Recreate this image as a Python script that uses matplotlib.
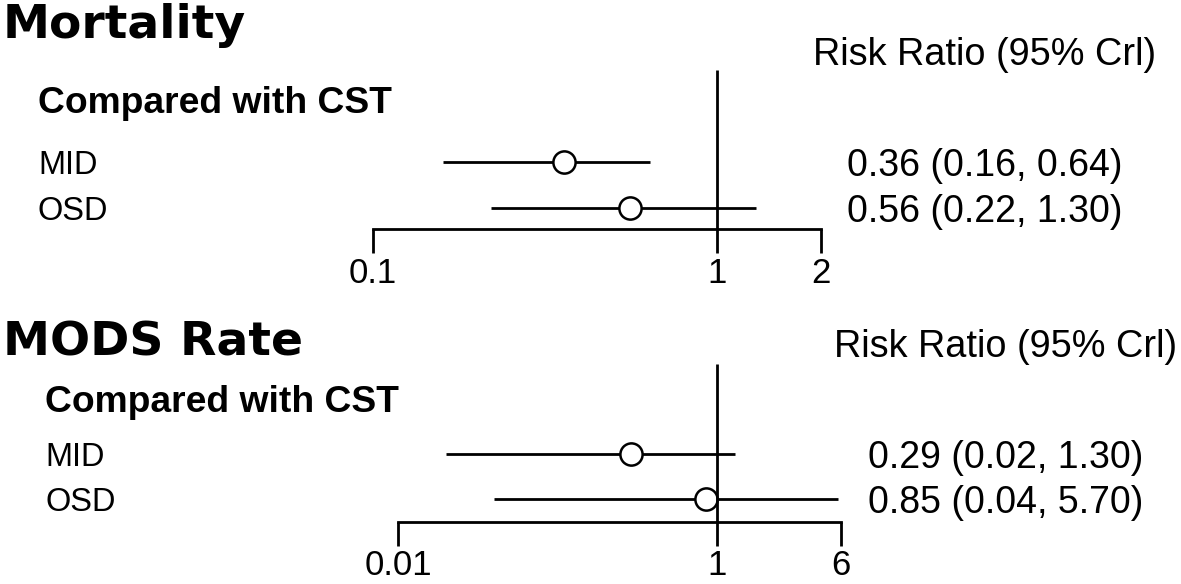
import numpy as np
import matplotlib
matplotlib.use("Agg")
import matplotlib.pyplot as plt
import matplotlib.transforms as mtransforms

plt.rcParams['font.family'] = ['Liberation Sans', 'DejaVu Sans']

# data
titles = ['Mortality', 'MODS Rate']
header = 'Compared with CST'
rr_label = 'Risk Ratio (95% Crl)'
rows = ['MID', 'OSD']
rr = [[0.36, 0.56], [0.29, 0.85]]
ci_low = [[0.16, 0.22], [0.02, 0.04]]
ci_high = [[0.64, 1.30], [1.30, 5.70]]
ticks = [[0.1, 1, 2], [0.01, 1, 6]]
tick_labels = [['0.1', '1', '2'], ['0.01', '1', '6']]

W, H = 1181, 584
fig = plt.figure(figsize=(W / 100, H / 100), dpi=100)

# layout per panel (pixels): top, bottom, first row y, row step, x of 1, px per decade
panels = [
    dict(top=0, bottom=292, row0=162, step=46, x1=717, dec=344, axis_row=1.46,
         title_y=38, rr_y=65, rr_x=985, head_y=113, lab_x=38, val_x=985),
    dict(top=292, bottom=584, row0=454, step=45, x1=717, dec=159.5, axis_row=1.5,
         title_y=356, rr_y=357, rr_x=1006, head_y=412, lab_x=45, val_x=1006),
]

for i, p in enumerate(panels):
    ax = fig.add_axes([0, 1 - p['bottom'] / H, 1, (p['bottom'] - p['top']) / H])
    ax.set_xscale('log')
    ax.set_xlim(10 ** (-p['x1'] / p['dec']), 10 ** ((W - p['x1']) / p['dec']))
    ax.set_ylim((p['bottom'] - p['row0']) / p['step'], (p['top'] - p['row0']) / p['step'])
    ax.patch.set_visible(False)

    y = np.arange(len(rows))
    ax.hlines(y, ci_low[i], ci_high[i], color='black', lw=2, zorder=2)
    ax.plot(rr[i], y, 'o', ms=16, mfc='white', mec='black', mew=1.8, zorder=3)
    ax.vlines(1, -2, p['axis_row'], color='black', lw=2, zorder=4)

    for s in ['left', 'right', 'top']:
        ax.spines[s].set_visible(False)
    ax.spines['bottom'].set_position(('data', p['axis_row']))
    ax.spines['bottom'].set_bounds(ticks[i][0], ticks[i][-1])
    ax.spines['bottom'].set_linewidth(2)
    ax.set_yticks([])
    ax.set_xticks(ticks[i])
    ax.set_xticklabels(tick_labels[i])
    ax.xaxis.set_minor_locator(matplotlib.ticker.NullLocator())
    ax.tick_params(axis='x', direction='out', length=17, width=2, pad=3, labelsize=25)

    # texts: x in figure fraction, y in row units
    tr = mtransforms.blended_transform_factory(fig.transFigure, ax.transData)
    for j, name in enumerate(rows):
        ax.text(p['lab_x'] / W, j, name, transform=tr, fontsize=23.5,
                va='center_baseline', ha='left')
        ax.text(p['val_x'] / W, j,
                f"{rr[i][j]:.2f} ({ci_low[i][j]:.2f}, {ci_high[i][j]:.2f})",
                transform=tr, fontsize=27, va='center_baseline', ha='center')

    fig.text(3 / W, 1 - p['title_y'] / H, titles[i], fontsize=34, fontweight='bold',
             family='DejaVu Sans', va='baseline', ha='left')
    fig.text(p['rr_x'] / W, 1 - p['rr_y'] / H, rr_label, fontsize=27.3,
             va='baseline', ha='center')
    fig.text(p['lab_x'] / W, 1 - p['head_y'] / H, header, fontsize=26.8,
             fontweight='bold', va='baseline', ha='left')

fig.savefig('out.png', dpi=100)
